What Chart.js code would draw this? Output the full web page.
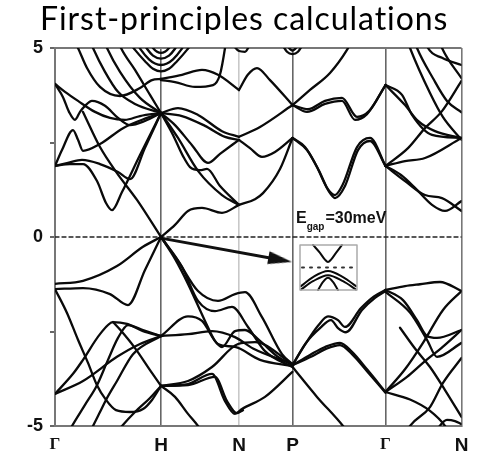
<!DOCTYPE html>
<html>
<head>
<meta charset="utf-8">
<script src="https://cdn.jsdelivr.net/npm/chart.js@4.4.0/dist/chart.umd.min.js"></script>
<style>
html, body { margin: 0; padding: 0; background: #fff; }
#wrap { width: 479px; height: 457px; position: relative; }
</style>
</head>
<body>
<div id="wrap"><canvas id="bands"></canvas></div>
<script>
// high symmetry points along the k path (arbitrary path units) and their names
const kPoints = [0, 106, 184, 237.5, 330.5, 406.5];
const kLabels = ['Γ', 'H', 'N', 'P', 'Γ', 'N'];
const energyTicks = [-5, -2.5, 0, 2.5, 5];
const energyLabels = { '-5': '-5', '0': '0', '5': '5' };
const titleText = 'First-principles calculations';

// bands as [k, E(eV)] pairs
const bandsGH = [
  [[20,5.16],[23,5.0],[32,4.47],[45,3.97],[65,3.73],[85,3.94],[97,4.15],[106,4.18]],
  [[35,5.2],[38,5.0],[50,4.37],[63,3.84],[80,3.52],[106,3.28]],
  [[49,5.2],[52,5.0],[65,4.37],[85,3.68],[106,3.28]],
  [[63,5.2],[66,5.0],[80,4.42],[95,3.76],[106,3.28]],
  [[0,4.05],[8,3.70],[14,3.31],[20,3.10],[25,3.31],[30,3.47],[37,3.60],[50,3.47],[63,3.15],[75,2.96],[90,3.07],[106,3.28]],
  [[0,4.05],[10,3.84],[23,3.60],[40,3.31],[55,3.15],[70,3.10],[85,3.20],[106,3.28]],
  [[0,1.88],[7,2.30],[18,2.83],[23,2.57],[28,2.28],[45,2.46],[68,2.88],[92,3.15],[106,3.28]],
  [[0,1.88],[13,1.96],[27,2.04],[45,1.93],[63,1.72],[75,1.53],[90,2.36],[106,3.28]],
  [[0,1.88],[15,1.93],[28,1.93],[42,1.48],[51,0.90],[57,0.71],[67,1.19],[85,2.17],[106,3.28]],
  [[28,3.31],[45,2.38],[62,1.69],[82,0.98],[106,0]],
  [[0,-1.24],[28,-1.16],[62,-0.77],[88,-0.26],[106,0]],
  [[0,-1.38],[28,-1.35],[55,-1.51],[73,-1.80],[90,-0.87],[106,0]],
  [[0,-1.38],[12,-2.01],[23,-2.72],[33,-3.33],[42,-3.92],[51,-4.31],[61,-4.58],[75,-4.63],[88,-4.55],[97,-4.31],[106,-3.94]],
  [[0,-4.15],[28,-3.81],[62,-3.17],[85,-2.83],[106,-2.62]],
  [[0,-4.15],[18,-3.62],[28,-3.25],[45,-2.57],[58,-2.25],[72,-2.30],[88,-2.49],[106,-2.62]],
  [[14,-5.15],[17,-5.0],[30,-4.44],[42,-3.92],[53,-3.25],[63,-2.67],[73,-2.33],[88,-2.46],[106,-2.62]],
  [[36,-5.1],[38,-5.0],[45,-4.63],[51,-4.31],[62,-3.81],[78,-3.10],[106,-2.62]],
  [[64,-5.1],[67,-5.0],[80,-4.63],[95,-4.26],[106,-3.94]],
  [[58,-2.25],[65,-2.45],[80,-2.94],[95,-3.52],[106,-3.94]]
];

// nested bands around H near the top edge
const bandsNestedH = [
  [[92,5.3],[98,5.0],[106,4.87],[114,5.0],[120,5.3]],
  [[85,5.3],[92,4.98],[98,4.8],[106,4.72],[114,4.8],[120,4.98],[127,5.3]],
  [[78,5.3],[86,4.95],[94,4.7],[100,4.59],[106,4.55],[112,4.59],[118,4.7],[126,4.95],[134,5.3]],
  [[70,5.3],[80,4.95],[90,4.65],[98,4.45],[106,4.38],[114,4.45],[122,4.65],[132,4.95],[142,5.3]]
];

const bandsHN = [
  [[106,4.18],[127,4.29],[147,4.42],[163,4.29],[184,3.89]],
  [[106,4.15],[120,4.10],[140,3.97],[158,4.02],[165,4.3],[170,5.0],[171,5.2]],
  [[106,3.28],[123,3.41],[143,3.23],[167,2.80],[184,2.65]],
  [[106,3.28],[127,3.20],[150,2.94],[170,2.65],[184,2.57]],
  [[106,3.28],[120,2.96],[137,2.43],[153,1.96],[165,2.20],[184,2.57]],
  [[106,3.28],[123,2.62],[143,1.75],[167,1.11],[184,0.85]],
  [[106,3.28],[118,2.70],[128,2.14],[135,1.85],[145,1.77],[152,1.80],[165,1.35],[184,0.85]],
  [[106,0],[120,0.32],[133,0.69],[147,0.77],[167,0.64],[184,0.85]],
  [[106,0],[123,-0.63],[143,-1.43],[163,-1.69],[180,-1.51],[190,-1.46],[207,-2.12],[227,-3.10],[237.5,-3.36]],
  [[106,0],[127,-0.79],[143,-1.69],[160,-1.96],[177,-1.85],[193,-2.38],[210,-3.02],[237.5,-3.44]],
  [[106,0],[120,-0.58],[133,-1.24],[150,-2.22],[160,-2.75],[167,-2.91],[180,-2.49],[190,-2.46],[205,-2.75],[222,-3.15],[237.5,-3.39]],
  [[106,-2.62],[133,-2.10],[147,-2.22],[163,-2.83],[180,-2.91],[205,-3.25],[237.5,-3.41]],
  [[106,-2.62],[133,-2.57],[157,-2.49],[180,-2.65],[198,-2.95],[237.5,-3.36]],
  [[106,-3.94],[133,-3.81],[157,-3.44],[183,-2.83],[200,-2.78],[237.5,-3.36]],
  [[106,-3.94],[133,-3.89],[157,-3.62],[170,-4.34],[180,-4.68],[187,-4.55],[210,-4.23],[237.5,-3.57]],
  [[106,-3.94],[133,-3.92],[160,-3.70],[172,-4.34],[182,-4.66],[188,-4.58]],
  [[106,-3.94],[120,-4.23],[133,-4.68],[143,-5.0],[148,-5.2]]
];

const bandsNP = [
  [[184,3.89],[193,4.3],[202,4.47],[215,4.15],[237.5,3.49]],
  [[184,2.65],[205,2.91],[237.5,3.49]],
  [[184,2.57],[195,2.35],[207,2.12],[220,2.25],[237.5,2.62]],
  [[184,0.85],[200,1.0],[208,1.16],[225,1.8],[237.5,2.62]],
  [[176,5.15],[184,4.92],[190,4.9],[196,5.15]],
  [[226,5.15],[232,4.9],[237.5,4.84],[243,4.9],[249,5.15]],
  [[231,5.1],[237.5,4.93],[244,5.1]]
];

const bandsPG = [
  [[237.5,3.49],[255,3.89],[275,4.34],[292,4.95],[296,5.15]],
  [[237.5,3.49],[252,3.31],[270,3.52],[287,3.60],[300,3.10],[312,3.25],[330.5,4.02]],
  [[237.5,3.49],[253,3.38],[270,3.6],[287,3.68],[302,3.18],[314,3.33],[330.5,4.02]],
  [[237.5,2.62],[250,2.38],[262,1.85],[272,1.30],[280,1.11],[288,1.4],[302,2.38],[315,2.62],[330.5,1.88]],
  [[237.5,2.62],[252,2.30],[264,1.75],[274,1.2],[280,1.03],[290,1.35],[303,2.30],[315,2.54],[330.5,1.88]],
  [[237.5,-3.39],[250,-2.85],[263,-2.35],[273,-2.1],[283,-2.2],[290,-2.38],[306,-1.88],[319,-1.57],[330.5,-1.40]],
  [[237.5,-3.39],[251,-2.80],[265,-2.41],[276,-2.20],[283,-2.41],[291,-2.52],[307,-1.93],[320,-1.61],[330.5,-1.43]],
  [[237.5,-3.39],[255,-3.12],[270,-2.91],[285,-2.80],[297,-3.04],[312,-3.5],[330.5,-4.1]],
  [[237.5,-3.39],[256,-3.17],[271,-2.96],[285,-2.86],[297,-3.1],[312,-3.55],[330.5,-4.12]],
  [[237.5,-3.44],[262,-4.23],[288,-5.0],[292,-5.15]]
];

const bandsGN = [
  [[330.5,4.02],[350,3.49],[363,3.07],[380,2.80],[406.5,2.62]],
  [[330.5,4.02],[347,3.76],[357,3.23],[377,2.70],[406.5,2.62]],
  [[353,5.15],[355,5.0],[375,3.81],[388,3.17],[406.5,2.57]],
  [[371,5.15],[373,5.0],[387,4.74],[406.5,4.55]],
  [[330.5,1.88],[353,2.35],[370,2.88],[387,3.33],[406.5,4.13]],
  [[330.5,1.88],[350,2.01],[370,2.09],[406.5,2.62]],
  [[330.5,1.88],[350,1.48],[370,1.11],[387,1.03],[406.5,0.69]],
  [[330.5,1.88],[346,1.64],[360,1.30],[377,0.85],[390,0.69],[406.5,0.95]],
  [[385,5.15],[387,5.0],[406.5,4.2]],
  [[360,5.15],[362,5.0],[378,4.2],[392,3.6],[406.5,3.3]],
  [[330.5,-1.40],[350,-1.30],[365,-1.25],[385,-1.19],[406.5,-1.43]],
  [[330.5,-1.40],[348,-1.67],[362,-2.2],[372,-2.62],[382,-2.67],[406.5,-2.46]],
  [[330.5,-1.45],[355,-2.0],[372,-2.72],[382,-3.17],[406.5,-2.80]],
  [[330.5,-4.1],[350,-3.5],[368,-2.8],[388,-1.93],[406.5,-1.43]],
  [[330.5,-4.1],[352,-3.7],[368,-3.33],[388,-2.9],[406.5,-2.46]],
  [[330.5,-4.1],[355,-4.3],[375,-4.6],[390,-5.0],[393,-5.15]],
  [[352,-5.15],[355,-5.0],[375,-4.5],[388,-3.86],[406.5,-3.2]],
  [[345,-2.4],[360,-2.95],[375,-3.44],[390,-4.05],[406.5,-4.76]],
  [[380,-5.15],[392,-4.84],[400,-4.87],[406.5,-4.95]]
];

// zero of energy and the gap inset
const fermiLine = [[0,0],[406.5,0]];
const insetBox = [[245,-0.21],[302,-0.21],[302,-1.40],[245,-1.40],[245,-0.21]];
const insetCond = [[258,-0.21],[265,-0.42],[270,-0.6],[273,-0.66],[276,-0.6],[281,-0.42],[287,-0.21]];
const insetFermi = [[247,-0.81],[300,-0.81]];
const insetVal1 = [[246,-1.30],[258,-1.06],[273,-0.90],[288,-1.06],[301,-1.30]];
const insetVal2 = [[246,-1.39],[258,-1.17],[273,-1.01],[288,-1.17],[301,-1.39]];
const insetVal3 = [[263,-1.40],[268,-1.19],[273,-1.08],[278,-1.19],[283,-1.40]];
const arrowLine = [[106,-0.03],[226,-0.61]];
const arrowTip = [237,-0.66];
const gapLabelPos = [241, 0.37];

const gridColors = ['#777', '#666', '#c8c8c8', '#666', '#666', '#777'];

const toXY = pts => pts.map(p => ({ x: p[0], y: p[1] }));
const bandSet = (pts, w) => ({
  data: toXY(pts), borderColor: '#0a0a0a', borderWidth: w || 2.3, pointRadius: 0,
  cubicInterpolationMode: 'monotone', clip: 0
});

// arrowhead as a small canvas, tip at the centre so the point sits on the tip
const head = document.createElement('canvas');
head.width = 50; head.height = 14;
const hc = head.getContext('2d');
hc.fillStyle = '#111';
hc.beginPath(); hc.moveTo(25, 7); hc.lineTo(1, 0.5); hc.lineTo(1, 13.5); hc.closePath(); hc.fill();

let datasets = [].concat(bandsGH, bandsNestedH, bandsHN, bandsNP, bandsPG, bandsGN).map(b => bandSet(b));
datasets.push({ data: toXY(fermiLine), borderColor: '#222', borderWidth: 1.3, borderDash: [4, 3], pointRadius: 0, tension: 0 });
datasets.push({ data: toXY(insetBox), borderColor: '#aaa', borderWidth: 1.5, pointRadius: 0, tension: 0 });
datasets.push(bandSet(insetCond, 2));
datasets.push({ data: toXY(insetFermi), borderColor: '#333', borderWidth: 2, borderDash: [2, 6], pointRadius: 0, tension: 0 });
datasets.push(bandSet(insetVal1, 2));
datasets.push(bandSet(insetVal2, 2));
datasets.push(bandSet(insetVal3, 2));
datasets.push({ data: toXY(arrowLine), borderColor: '#111', borderWidth: 3, pointRadius: 0, tension: 0 });
datasets.push({
  data: toXY([arrowTip]), showLine: false, pointRadius: 5, pointStyle: head,
  pointRotation: c => {
    const xs = c.chart.scales.x, ys = c.chart.scales.y;
    const dx = xs.getPixelForValue(arrowTip[0]) - xs.getPixelForValue(arrowLine[0][0]);
    const dy = ys.getPixelForValue(arrowTip[1]) - ys.getPixelForValue(arrowLine[0][1]);
    return Math.atan2(dy, dx) * 180 / Math.PI;
  }
});

const textPlugin = {
  id: 'texts',
  afterDraw(chart) {
    const ctx = chart.ctx, xs = chart.scales.x, ys = chart.scales.y;
    // E_gap label
    ctx.save();
    ctx.fillStyle = '#111';
    ctx.textBaseline = 'alphabetic';
    const x0 = xs.getPixelForValue(gapLabelPos[0]), y0 = ys.getPixelForValue(gapLabelPos[1]);
    ctx.font = 'bold 16px "Liberation Sans"';
    ctx.fillText('E', x0, y0);
    let w = ctx.measureText('E').width;
    ctx.font = 'bold 10px "Liberation Sans"';
    ctx.fillText('gap', x0 + w, y0 + 7);
    w += ctx.measureText('gap').width + 1;
    ctx.font = 'bold 16px "Liberation Sans"';
    ctx.fillText('=30meV', x0 + w, y0);
    ctx.restore();

    // title, its descenders cut off like in the picture
    ctx.save();
    ctx.beginPath(); ctx.rect(0, 0, chart.width, 34); ctx.clip();
    ctx.fillStyle = '#000';
    ctx.font = '32px Lato';
    const tw = ctx.measureText(titleText).width;
    ctx.letterSpacing = ((408 - tw) / (titleText.length - 1)) + 'px';
    ctx.textAlign = 'left';
    ctx.fillText(titleText, 40, 30);
    ctx.restore();
  }
};

new Chart(document.getElementById('bands'), {
  type: 'line',
  data: { datasets },
  options: {
    responsive: true, maintainAspectRatio: false, animation: false,
    layout: { padding: { top: 48, right: 17.5, left: 0, bottom: 0 } },
    plugins: { legend: { display: false }, tooltip: { enabled: false } },
    elements: { line: { borderCapStyle: 'round', borderJoinStyle: 'round' } },
    scales: {
      x: {
        type: 'linear', min: 0, max: 406.5,
        afterBuildTicks: s => { s.ticks = kPoints.map(v => ({ value: v })); },
        afterFit: s => { s.height = 31; },
        ticks: {
          autoSkip: false, maxRotation: 0, padding: 8, color: '#111',
          callback: (v, i) => kLabels[i],
          font: c => (c.index === 0 || c.index === 4)
            ? { family: 'Liberation Serif', size: 17, weight: 'bold' }
            : { family: 'Liberation Sans', size: 19, weight: 'bold' }
        },
        grid: { drawTicks: false, lineWidth: 1.6, color: c => gridColors[c.index] },
        border: { color: '#777', width: 2 }
      },
      y: {
        min: -5, max: 5,
        afterBuildTicks: s => { s.ticks = energyTicks.map(v => ({ value: v })); },
        afterFit: s => { s.width = 55; },
        ticks: {
          padding: 7, color: '#111',
          font: { family: 'Liberation Sans', size: 18, weight: 'bold' },
          callback: v => energyLabels[v] || ''
        },
        grid: {
          tickLength: 5, tickColor: '#666', lineWidth: 2,
          color: c => (c.tick && c.tick.value === 5) ? '#777' : 'rgba(0,0,0,0)'
        },
        border: { color: '#777', width: 2 }
      }
    }
  },
  plugins: [textPlugin]
});
</script>
</body>
</html>
